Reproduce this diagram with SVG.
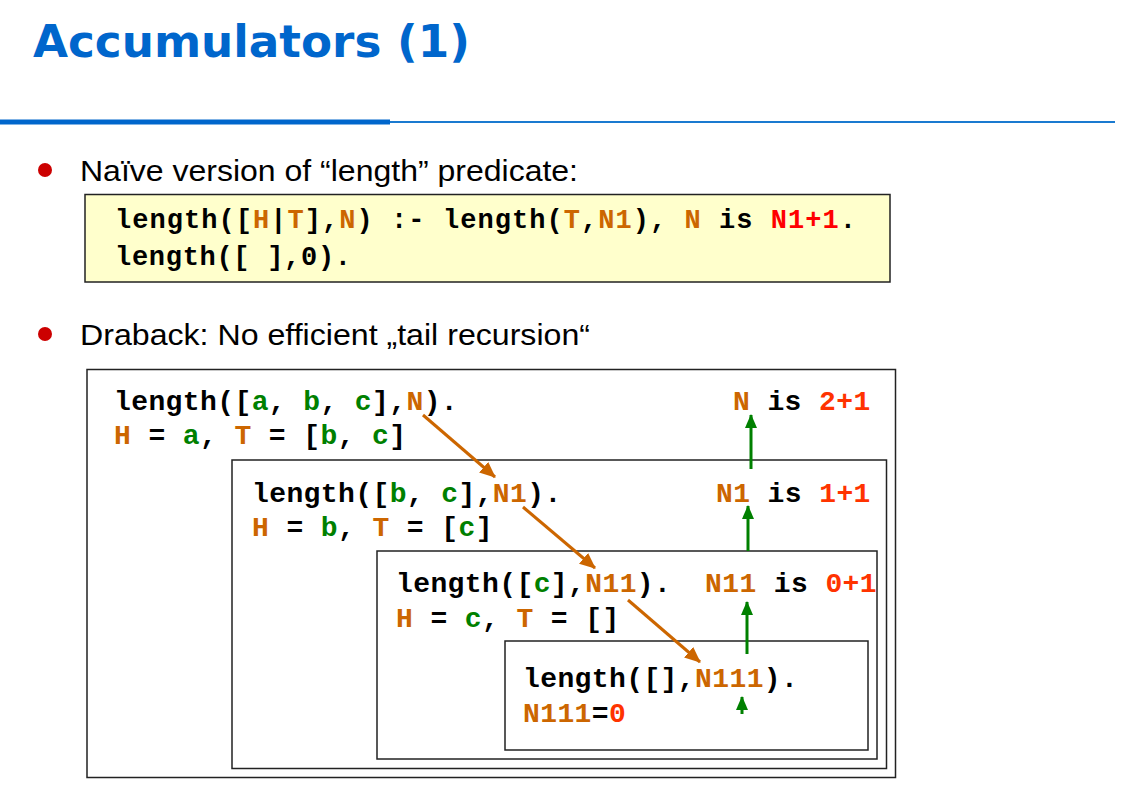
<svg xmlns="http://www.w3.org/2000/svg" width="1121" height="789" viewBox="0 0 1121 789">
  <style>
    .title { font-family: "DejaVu Sans", Verdana, sans-serif; font-weight: bold; font-size: 45px; fill: #0066CC; }
    .bullet { font-family: "Liberation Sans", Arial, sans-serif; font-size: 29px; fill: #000; }
    .code { font-family: "Liberation Mono", "Courier New", monospace; font-weight: bold; font-size: 28px; letter-spacing: 0.4px; fill: #000; }
    .code-top { font-family: "Liberation Mono", "Courier New", monospace; font-weight: bold; font-size: 27px; fill: #000; }
    .v { fill: #CC6600; }
    .atom { fill: #008000; }
    .num { fill: #FF3300; }
    .numr { fill: #FF0000; }
    .frame { fill: #fff; stroke: #222; stroke-width: 1.5; }
    .orange { stroke: #CC6600; stroke-width: 3; fill: none; }
    .green { stroke: #008000; stroke-width: 3; fill: none; }
  </style>
  <defs>
    <marker id="headOrange" markerUnits="userSpaceOnUse" markerWidth="16" markerHeight="14" refX="15" refY="7" orient="auto">
      <path d="M0,0 L16,7 L0,14 Z" fill="#CC6600"/>
    </marker>
    <marker id="headGreen" markerUnits="userSpaceOnUse" markerWidth="14" markerHeight="12" refX="13" refY="6" orient="auto">
      <path d="M0,0 L14,6 L0,12 Z" fill="#008000"/>
    </marker>
  </defs>

  <rect width="1121" height="789" fill="#fff"/>

  <!-- heading and rule -->
  <g id="heading">
    <text class="title" x="33" y="57" textLength="437" lengthAdjust="spacingAndGlyphs">Accumulators (1)</text>
    <rect x="0" y="119.5" width="390" height="5" fill="#0066CC"/>
    <rect x="390" y="121" width="725" height="2" fill="#1A7AD0"/>
  </g>

  <!-- first bullet and naive definition -->
  <g id="bullet1">
    <circle cx="45" cy="170" r="7" fill="#CC0000"/>
    <text class="bullet" x="80" y="181" textLength="498" lengthAdjust="spacingAndGlyphs">Naïve version of “length” predicate:</text>
  </g>
  <g id="definition">
    <rect x="85" y="194.5" width="805" height="87.5" fill="#FFFFCC" stroke="#222" stroke-width="1.5"/>
    <text class="code-top" x="115" y="228" textLength="741" lengthAdjust="spacing" xml:space="preserve">length([<tspan class="v">H</tspan>|<tspan class="v">T</tspan>],<tspan class="v">N</tspan>) :- length(<tspan class="v">T</tspan>,<tspan class="v">N1</tspan>), <tspan class="v">N</tspan> is <tspan class="numr">N1+1</tspan>.</text>
    <text class="code-top" x="115" y="265" textLength="236" lengthAdjust="spacing" xml:space="preserve">length([ ],0).</text>
  </g>

  <!-- second bullet -->
  <g id="bullet2">
    <circle cx="45" cy="334" r="7" fill="#CC0000"/>
    <text class="bullet" x="80" y="345" textLength="510" lengthAdjust="spacingAndGlyphs">Draback: No efficient „tail recursion“</text>
  </g>

  <!-- nested call frames -->
  <g id="frame1">
    <rect class="frame" x="87" y="369.5" width="808.5" height="408"/>
    <text class="code" x="114" y="410" xml:space="preserve">length([<tspan class="atom">a</tspan>, <tspan class="atom">b</tspan>, <tspan class="atom">c</tspan>],<tspan class="v">N</tspan>).</text>
    <text class="code" x="114" y="444" xml:space="preserve"><tspan class="v">H</tspan> = <tspan class="atom">a</tspan>, <tspan class="v">T</tspan> = [<tspan class="atom">b</tspan>, <tspan class="atom">c</tspan>]</text>
    <text class="code" x="733" y="410" xml:space="preserve"><tspan class="v">N</tspan> is <tspan class="num">2+1</tspan></text>
  </g>
  <g id="frame2">
    <rect class="frame" x="232" y="460" width="654.5" height="308.5"/>
    <text class="code" x="252" y="502" xml:space="preserve">length([<tspan class="atom">b</tspan>, <tspan class="atom">c</tspan>],<tspan class="v">N1</tspan>).</text>
    <text class="code" x="252" y="536" xml:space="preserve"><tspan class="v">H</tspan> = <tspan class="atom">b</tspan>, <tspan class="v">T</tspan> = [<tspan class="atom">c</tspan>]</text>
    <text class="code" x="716" y="502" xml:space="preserve"><tspan class="v">N1</tspan> is <tspan class="num">1+1</tspan></text>
  </g>
  <g id="frame3">
    <rect class="frame" x="377" y="551" width="500" height="208"/>
    <text class="code" x="396" y="592" xml:space="preserve">length([<tspan class="atom">c</tspan>],<tspan class="v">N11</tspan>).</text>
    <text class="code" x="396" y="627" xml:space="preserve"><tspan class="v">H</tspan> = <tspan class="atom">c</tspan>, <tspan class="v">T</tspan> = []</text>
    <text class="code" x="705" y="592" xml:space="preserve"><tspan class="v">N11</tspan> is <tspan class="num">0+1</tspan></text>
  </g>
  <g id="frame4">
    <rect class="frame" x="505" y="641" width="363" height="109"/>
    <text class="code" x="523" y="687" xml:space="preserve">length([],<tspan class="v">N111</tspan>).</text>
    <text class="code" x="523" y="722" xml:space="preserve"><tspan class="v">N111</tspan>=<tspan class="num">0</tspan></text>
  </g>

  <!-- connectors: calls go down, results come back up -->
  <g id="connectors">
    <line class="orange" x1="423" y1="415" x2="495" y2="477" marker-end="url(#headOrange)"/>
    <line class="orange" x1="523" y1="507" x2="595" y2="568" marker-end="url(#headOrange)"/>
    <line class="orange" x1="628" y1="600" x2="700" y2="662" marker-end="url(#headOrange)"/>
    <line class="green" x1="751" y1="469" x2="751" y2="415" marker-end="url(#headGreen)"/>
    <line class="green" x1="748" y1="551" x2="748" y2="506" marker-end="url(#headGreen)"/>
    <line class="green" x1="747" y1="654" x2="747" y2="602" marker-end="url(#headGreen)"/>
    <line class="green" x1="742" y1="714" x2="742" y2="697" marker-end="url(#headGreen)"/>
  </g>
</svg>
